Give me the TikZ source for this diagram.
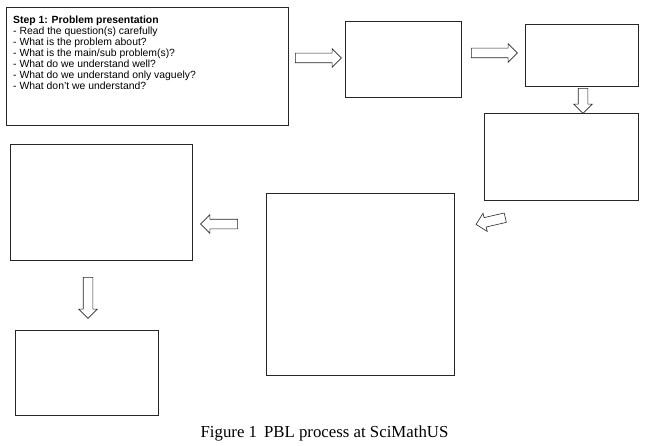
\documentclass[tikz,border=0pt]{standalone}
\usepackage{fontspec}
\setmainfont{Liberation Sans}
\newfontfamily\capfont{Liberation Serif}
\usepackage{tikz}
\usetikzlibrary{shapes.arrows}

\begin{document}
\begin{tikzpicture}[x=1pt, y=-1pt,
        stage/.style={draw=black!85, line width=0.7pt, inner sep=0pt},
        flow/.style={single arrow, draw=black!85, fill=white, line width=0.6pt,
                     inner xsep=0pt, inner ysep=4.5pt, single arrow head extend=4.5pt,
                     single arrow head indent=0pt}]
        \useasboundingbox (0,0) rectangle (652,446);

        \node[stage, minimum width=282pt, minimum height=118pt] (b1) at (147,66) {};
        \node[stage, minimum width=116pt, minimum height=76pt] (b2) at (403,59) {};
        \node[stage, minimum width=113pt, minimum height=62pt] (b3) at (581.5,55) {};
        \node[stage, minimum width=154pt, minimum height=87pt] (b4) at (561,156.5) {};
        \node[stage, minimum width=188pt, minimum height=182pt] (b5) at (360,284) {};
        \node[stage, minimum width=182pt, minimum height=116pt] (b6) at (101,202) {};
        \node[stage, minimum width=143pt, minimum height=85pt] (b7) at (86.5,372.5) {};

        \node[anchor=north west, align=left, inner sep=0pt,
              font=\fontsize{10.4}{11}\selectfont] (step1) at (13,15.5)
             {\textbf{Step 1: Problem presentation}\\
              - Read the question(s) carefully\\
              - What is the problem about?\\
              - What is the main/sub problem(s)?\\
              - What do we understand well?\\
              - What do we understand only vaguely?\\
              - What don't we understand?};

        \node[flow, minimum height=46pt] (a1) at (316,58) {};
        \node[flow, minimum height=46pt] (a2) at (492,53) {};
        \node[flow, minimum height=25pt, rotate=270] (a3) at (583,98.5) {};
        \node[flow, minimum height=30pt, rotate=193] (a4) at (493,220.5) {};
        \node[flow, minimum height=37pt, rotate=180] (a5) at (221.5,224) {};
        \node[flow, minimum height=41pt, rotate=270] (a6) at (88,295.5) {};

        \node[font=\capfont\fontsize{16.8}{18}\selectfont, anchor=base] (cap) at (324.5,437.5)
             {Figure 1\hspace{7pt}PBL process at SciMathUS};
\end{tikzpicture}
\end{document}
